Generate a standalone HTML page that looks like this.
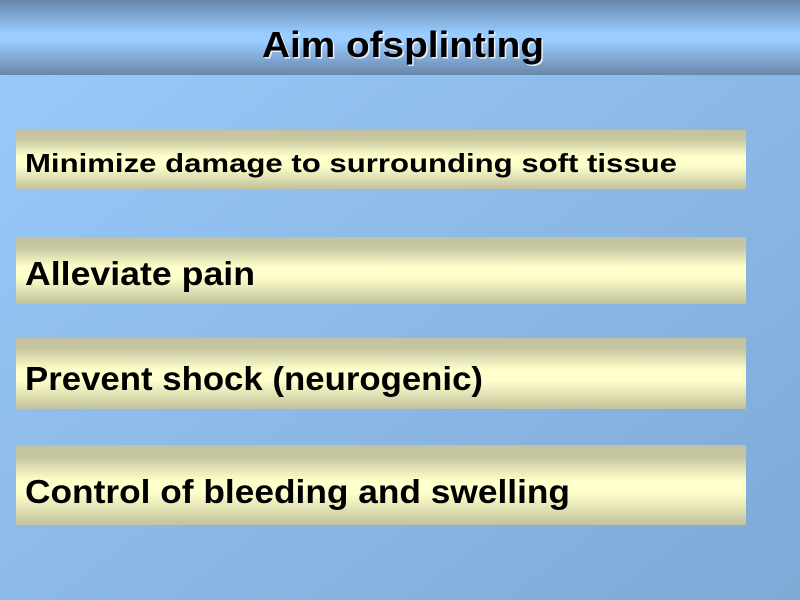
<!DOCTYPE html>
<html><head><meta charset="utf-8"><style>html,body{margin:0;padding:0;width:800px;height:600px;overflow:hidden}svg{display:block}</style></head>
<body>
<svg width="800" height="600" xmlns="http://www.w3.org/2000/svg" font-family="'Liberation Sans', 'DejaVu Sans', sans-serif" font-weight="bold">
<defs>
<linearGradient id="bg" x1="0" y1="0" x2="1" y2="1"><stop offset="0" stop-color="#99cbfb"/><stop offset="1" stop-color="#7fa9d6"/></linearGradient>
<linearGradient id="hd" x1="0" y1="0" x2="0" y2="1"><stop offset="0" stop-color="#6887aa"/><stop offset="0.45" stop-color="#99ccff"/><stop offset="0.55" stop-color="#99ccff"/><stop offset="1" stop-color="#6887aa"/></linearGradient>
<linearGradient id="bx" x1="0" y1="0" x2="0" y2="1"><stop offset="0" stop-color="#c2c29c"/><stop offset="0.15" stop-color="#c6c6a0"/><stop offset="0.45" stop-color="#ffffcc"/><stop offset="0.6" stop-color="#ffffcc"/><stop offset="1" stop-color="#c2c29c"/></linearGradient>
</defs>
<rect width="800" height="600" fill="url(#bg)"/>
<rect width="800" height="75" fill="url(#hd)"/>
<text x="262" y="57" font-size="36" fill="#fff" textLength="282" lengthAdjust="spacingAndGlyphs" opacity="0.8" transform="translate(1.5,1.5)">Aim ofsplinting</text>
<text x="262" y="57" font-size="36" fill="#000" textLength="282" lengthAdjust="spacingAndGlyphs">Aim ofsplinting</text>
<rect x="16" y="130" width="730" height="59" fill="url(#bx)"/>
<rect x="16" y="237" width="730" height="67" fill="url(#bx)"/>
<rect x="16" y="338" width="730" height="71" fill="url(#bx)"/>
<rect x="16" y="445" width="730" height="80" fill="url(#bx)"/>
<text x="25" y="172" font-size="26" textLength="652" lengthAdjust="spacingAndGlyphs">Minimize damage to surrounding soft tissue</text>
<text x="25" y="285" font-size="33" textLength="230" lengthAdjust="spacingAndGlyphs">Alleviate pain</text>
<text x="25" y="390" font-size="33" textLength="458" lengthAdjust="spacingAndGlyphs">Prevent shock (neurogenic)</text>
<text x="25" y="503" font-size="33" textLength="545" lengthAdjust="spacingAndGlyphs">Control of bleeding and swelling</text>
</svg>
</body></html>
